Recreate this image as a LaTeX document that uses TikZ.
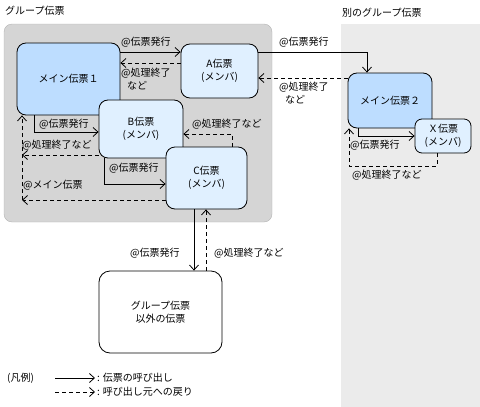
\documentclass[tikz,border=0pt]{standalone}
\usepackage{fontspec}
\setmainfont{Noto Sans CJK JP}
\usepackage{tikz}
\usetikzlibrary{arrows.meta}

\definecolor{grpgray}{HTML}{D5D5D5}
\definecolor{grpline}{HTML}{B4B4B4}
\definecolor{othergray}{HTML}{EBEBEB}
\definecolor{mainblue}{HTML}{BDDDFF}
\definecolor{memberblue}{HTML}{E0F0FF}

\begin{document}
\begin{tikzpicture}[x=1pt,y=-1pt,
			font=\fontsize{10}{13}\selectfont,
			main node/.style={draw,line width=0.8pt,rounded corners=9pt,
				fill=mainblue,align=center,inner sep=0pt},
			member node/.style={main node,fill=memberblue},
			other node/.style={main node,fill=white},
			lbl/.style={anchor=west,inner sep=0pt,align=left},
			call/.style={draw,line width=0.8pt,-{Straight Barb[length=5pt,width=9pt]}},
			back/.style={call,dash pattern=on 4pt off 3pt}]
	
	\useasboundingbox (0,0) rectangle (480,407);
	
	% group areas
	\fill[othergray] (341,24) rectangle (480,407);
	\filldraw[fill=grpgray,draw=grpline,rounded corners=8pt] (4,24) rectangle (272,222);
	\node[lbl] (t1) at (5,11) {グループ伝票};
	\node[lbl] (t2) at (342,13) {別のグループ伝票};
	
	% slips
	\node[main node,minimum width=103pt,minimum height=72pt] (M1) at (68.5,79) {メイン伝票１};
	\node[member node,minimum width=77pt,minimum height=54pt] (A) at (219.5,71) {A伝票\\(メンバ)};
	\node[member node,minimum width=84pt,minimum height=58pt] (B) at (141,129) {B伝票\\(メンバ)};
	\node[member node,minimum width=81pt,minimum height=62pt] (C) at (206.5,178) {C伝票\\(メンバ)};
	\node[main node,minimum width=84pt,minimum height=55pt] (M2) at (390,100.5) {メイン伝票２};
	\node[member node,minimum width=56pt,minimum height=34pt,rounded corners=7pt] (X) at (443,136) {Ｘ伝票\\(メンバ)};
	\node[other node,minimum width=123pt,minimum height=82pt,rounded corners=11pt] (O) at (160.5,312) {グループ伝票\\以外の伝票};
	
	\coordinate (rt) at (22,200);
	\coordinate (xr) at (349,166);
	
	% calls
	\draw[call] (M1.east |- 0,52) -- (A.west |- 0,52);
	\draw[back] (A.west |- 0,63) -- (M1.east |- 0,63);
	\draw[call] (A.east |- 0,52) -| ([xshift=-23pt]M2.north);
	\draw[back] (M2.west |- 0,78) -- (A.east |- 0,78);
	\draw[call] ([xshift=18pt]M1.south west) |- (B.west |- 0,132);
	\draw[back] (B.west |- 0,155) -- (rt |- 0,155);
	\draw[back] (C.west |- rt) -- (rt);
	\draw[back] (rt) -- (M1.south -| rt);
	\draw[call] ([xshift=6pt]B.south west) |- (C.west |- 0,184);
	\draw[back] ([xshift=-15pt]C.north east) |- (B.east |- 0,134);
	\draw[call] (C.south -| 194,0) -- (O.north -| 194,0);
	\draw[back] (O.north -| 206,0) -- (C.south -| 206,0);
	\draw[call] ([xshift=11pt]M2.south west) |- (X.west |- 0,136);
	\draw[back] (X.south -| 437,0) |- (xr) -- (M2.south -| xr);
	
	% labels
	\node[lbl] (l1) at (121,42) {@伝票発行};
	\node[lbl] (l2) at (121,79.5) {@処理終了\\\hspace*{6pt}など};
	\node[lbl] (l3) at (279,42) {@伝票発行};
	\node[lbl] (l4) at (279,93.5) {@処理終了\\\hspace*{6pt}など};
	\node[lbl] (l5) at (39,124) {@伝票発行};
	\node[lbl] (l6) at (22,145) {@処理終了など};
	\node[lbl] (l7) at (109,168) {@伝票発行};
	\node[lbl] (l8) at (23,185) {@メイン伝票};
	\node[lbl] (l9) at (192,124) {@処理終了など};
	\node[lbl] (l10) at (130,253) {@伝票発行};
	\node[lbl] (l11) at (214,253) {@処理終了など};
	\node[lbl] (l12) at (350,145) {@伝票発行};
	\node[lbl] (l13) at (352,175) {@処理終了など};
	
	% legend
	\node[lbl] (lg) at (7,378) {(凡例)};
	\coordinate (ls1) at (55,378);
	\coordinate (le1) at (95,378);
	\coordinate (ls2) at (55,392);
	\coordinate (le2) at (95,392);
	\draw[call] (ls1) -- (le1);
	\draw[back] (ls2) -- (le2);
	\node[lbl] (lg1) at (97,378) {: 伝票の呼び出し};
	\node[lbl] (lg2) at (97,392) {: 呼び出し元への戻り};
	
\end{tikzpicture}
\end{document}
